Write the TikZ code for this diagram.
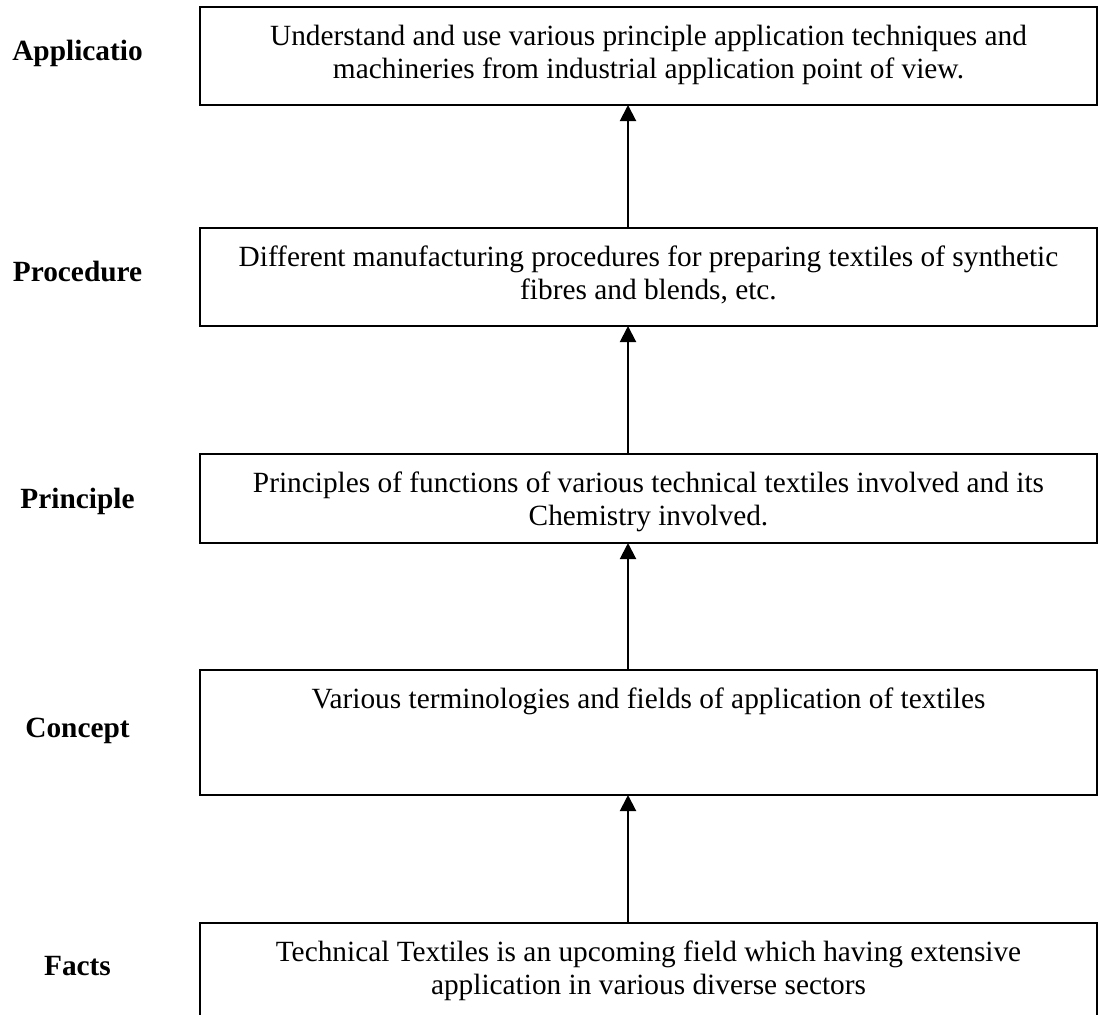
\documentclass[tikz,border=0pt]{standalone}
\usepackage{fontspec}
\setmainfont{Liberation Serif}
\usetikzlibrary{arrows.meta}
\begin{document}
\begin{tikzpicture}[x=0.75pt,y=-0.75pt,
  box/.style={draw=black,line width=1.5pt,rectangle,minimum width=672.75pt,inner sep=0pt,outer sep=0pt},
  txt/.style={align=center,inner sep=0pt,anchor=base,font=\fontsize{22pt}{24.75pt}\selectfont},
  lbl/.style={inner sep=0pt,anchor=base,font=\fontsize{22pt}{24.75pt}\selectfont\bfseries},
  arr/.style={line width=1.5pt,-{Triangle[width=12pt,length=12pt]}}]
\useasboundingbox (0,0) rectangle (1098,1014);
\clip (0,0) rectangle (1098,1014);
\fill[white] (0,0) rectangle (1098,1014);
\coordinate (ax) at (628,0);
% boxes
\node[box,minimum height=73.5pt]  (b1) at (648.5,56) {};
\node[box,minimum height=73.5pt]  (b2) at (648.5,277) {};
\node[box,minimum height=66.75pt] (b3) at (648.5,498.5) {};
\node[box,minimum height=93.75pt] (b4) at (648.5,732.5) {};
\node[box,minimum height=87.75pt] (b5) at (648.5,981.5) {};
% box texts (base anchor = baseline of last line)
\node[txt] (t1) at (648.5,78) {Understand and use various principle application techniques and\\machineries from industrial application point of view.};
\node[txt] (t2) at (648.5,299) {Different manufacturing procedures for preparing textiles of synthetic\\fibres and blends, etc.};
\node[txt] (t3) at (648.5,525) {Principles of functions of various technical textiles involved and its\\Chemistry involved.};
\node[txt] (t4) at (648.5,708) {Various terminologies and fields of application of textiles};
\node[txt] (t5) at (648.5,994) {Technical Textiles is an upcoming field which having extensive\\application in various diverse sectors};
% labels
\node[lbl] (l1) at (77.5,60)  {Applicatio};
\node[lbl] (l2) at (77.5,281) {Procedure};
\node[lbl] (l3) at (77.5,508) {Principle};
\node[lbl] (l4) at (77.5,737) {Concept};
\node[lbl] (l5) at (77.5,975) {Facts};
% arrows
\draw[arr] (b5.north -| ax) -- (b4.south -| ax);
\draw[arr] (b4.north -| ax) -- (b3.south -| ax);
\draw[arr] (b3.north -| ax) -- (b2.south -| ax);
\draw[arr] (b2.north -| ax) -- (b1.south -| ax);
\end{tikzpicture}
\end{document}
